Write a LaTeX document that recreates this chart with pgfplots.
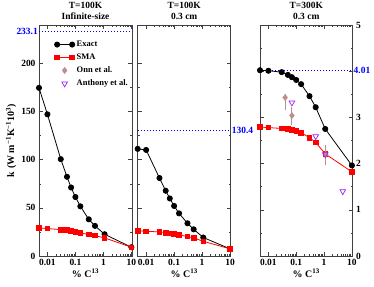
\documentclass[border=0pt]{standalone}
\usepackage{fontspec}
\setmainfont{Liberation Serif}
\usepackage{pgfplots}
\pgfplotsset{compat=1.18}
\definecolor{onn}{RGB}{188,143,143}
\definecolor{anth}{RGB}{160,32,240}
\newcommand{\tfont}{\fontsize{9.5}{11}\selectfont\bfseries}
\pgfplotsset{
 every axis/.append style={
  scale only axis, width=93bp, height=231bp, xmode=log, xmin=0.005, xmax=10.5,
  xtick={0.01,0.1,1,10}, xticklabels={0.01,0.1,1,10},
  tick align=inside, axis line style={black!75, line width=0.8pt}, tick style={black!75, line width=0.6pt},
  major tick length=4bp, minor tick length=2bp,
  ticklabel style={font=\tfont},
  /pgf/number format/assume math mode=true,
  title style={font=\tfont, align=center, yshift=-4.5bp},
  xlabel={\% C\textsuperscript{13}},
  xlabel style={font=\fontsize{10}{11}\selectfont\bfseries, yshift=4bp},
  clip=false, minor y tick num=1, anchor=south west,
 },
}
\tikzset{
 myexact/.style={black, line width=0.8pt, mark=*, mark size=2.6bp, mark options={solid}},
 mysma/.style={red, line width=0.8pt, mark=square*, mark size=2.3bp, mark options={solid}},
 myrefl/.style={blue, line width=0.9pt, dash pattern=on 0.9bp off 2.1bp},
 twoendlegend/.style={/pgfplots/legend image code/.code={\draw[##1] plot coordinates {(0bp,0bp) (15bp,0bp)};}},
 midlegend/.style={/pgfplots/legend image code/.code={\draw[##1] plot coordinates {(7.5bp,0bp)};}},
}
\begin{document}
\begin{tikzpicture}
% Panel 1
\begin{axis}[at={(39bp,31bp)}, ymin=0, ymax=240, ytick={0,50,100,150,200},
  title={T=100K\\Infinite-size},
  ylabel={k (W m\textsuperscript{−1}K\textsuperscript{−1}10\textsuperscript{3})},
  ylabel style={font=\fontsize{10}{11}\selectfont\bfseries, at={(axis description cs:-0.30,0.5)}, anchor=center},
  legend style={at={(rel axis cs:0.165,0.94)}, anchor=north west, draw=none, fill=none,
    font=\fontsize{8.5}{9}\selectfont\bfseries, row sep=1.8bp, inner sep=0pt, cells={anchor=west}},
]
\addplot[myrefl, forget plot] coordinates {(0.005,233.1) (10.5,233.1)};
\addplot[myexact, twoendlegend] coordinates {(0.005,174.7) (0.01,147.2) (0.03,100.6) (0.05,82.3) (0.07,71.2) (0.1,61.3) (0.15,51.6) (0.3,38.1) (0.5,31.3) (1.1,22.6) (10,9.1)};
\addlegendentry{Exact}
\addplot[mysma, twoendlegend] coordinates {(0.005,29.2) (0.01,28.5) (0.03,27.4) (0.05,27.1) (0.07,26.1) (0.1,25.1) (0.15,24.0) (0.3,22.3) (0.5,21.2) (1.1,18.8) (10,9.1)};
\addlegendentry{SMA}
\addlegendimage{only marks, mark=diamond*, color=onn, mark size=3.2bp, midlegend}
\addlegendentry{Onn et al.}
\addlegendimage{only marks, mark=triangle, mark options={rotate=180}, color=anth, mark size=3.3bp, line width=0.7pt, midlegend}
\addlegendentry{Anthony et al.}
\node[anchor=east, text=blue, font=\tfont, inner sep=1bp] at (axis cs:0.005,233.1) {233.1};
\end{axis}
% Panel 2
\begin{axis}[at={(137.7bp,31bp)}, ymin=0, ymax=240, ytick={0,50,100,150,200}, yticklabels={},
  title={T=100K\\0.3 cm}]
\addplot[myrefl] coordinates {(0.005,130.4) (10.5,130.4)};
\addplot[myexact] coordinates {(0.005,111.3) (0.01,110.2) (0.03,81.0) (0.05,67.8) (0.07,59.8) (0.1,52.0) (0.15,44.3) (0.3,34.0) (0.5,27.7) (1.1,19.2) (10,7.4)};
\addplot[mysma] coordinates {(0.005,26.1) (0.01,25.7) (0.03,25.0) (0.05,24.3) (0.07,23.6) (0.1,23.0) (0.15,21.9) (0.3,20.2) (0.5,18.8) (1.1,15.3) (10,7.4)};
\node[anchor=west, text=blue, font=\tfont, inner sep=1bp] at (axis cs:10.5,130.4) {130.4};
\end{axis}
% Panel 3
\begin{axis}[at={(260bp,31bp)}, width=92.5bp, ymin=0, ymax=5, ytick={0,1,2,3,4,5}, yticklabels={0,1,2,3,,5},
  yticklabel pos=right, title={T=300K\\0.3 cm}]
\addplot[myrefl] coordinates {(0.005,4.01) (10.5,4.01)};
\addplot[myexact] coordinates {(0.005,4.02) (0.01,4.01) (0.03,3.98) (0.05,3.92) (0.07,3.87) (0.1,3.81) (0.15,3.72) (0.3,3.46) (0.5,3.22) (1.1,2.75) (10,1.96)};
\addplot[mysma] coordinates {(0.005,2.79) (0.01,2.78) (0.03,2.76) (0.05,2.75) (0.07,2.73) (0.1,2.71) (0.15,2.67) (0.3,2.56) (0.5,2.46) (1.1,2.21) (10,1.82)};
\addplot[only marks, mark=diamond*, color=onn, mark size=3.2bp,
  error bars/.cd, y dir=both, y explicit, error mark=none, error bar style={line width=1pt, onn}]
  coordinates {(0.04,3.43) += (0,0.07) -= (0,0.26)
               (0.07,3.04) += (0,0.19) -= (0,0.21)
               (1.15,2.2) += (0,0.21) -= (0,0.24)};
\addplot[only marks, mark=triangle, mark options={rotate=180}, color=anth, mark size=3.3bp, line width=0.7pt]
  coordinates {(0.07,3.32) (0.5,2.59) (1.1,2.2) (4.7,1.40)};
\node[anchor=west, text=blue, font=\tfont, inner sep=1bp] at (axis cs:10.5,4.01) {4.01};
\end{axis}
\pgfresetboundingbox
\path (0,0) rectangle (374bp,287bp);
\end{tikzpicture}
\end{document}
